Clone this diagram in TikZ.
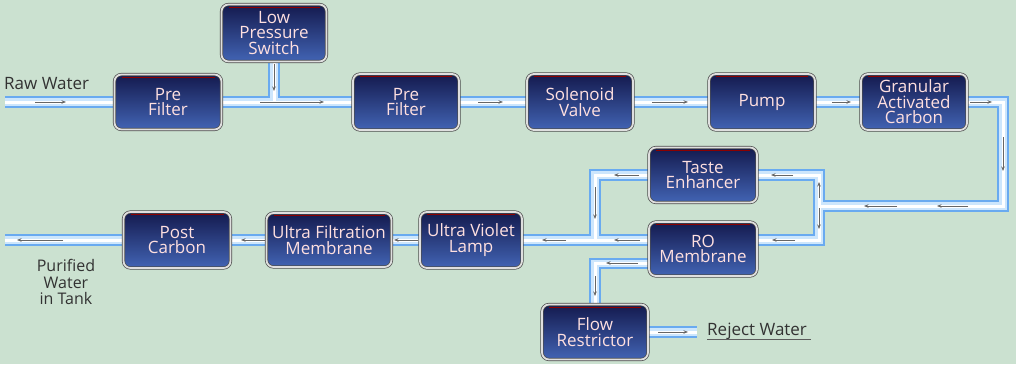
\documentclass[tikz,border=0pt]{standalone}
\usepackage{fontspec}
\setmainfont{Open Sans}
\usetikzlibrary{arrows.meta,calc}
\definecolor{bgc}{RGB}{203,225,208}
\definecolor{boxtop}{RGB}{20,26,78}
\definecolor{boxbot}{RGB}{66,100,180}
\definecolor{pipeblue}{RGB}{105,170,240}
\definecolor{pipemid}{RGB}{205,230,252}
\definecolor{txtdark}{RGB}{50,50,50}
\pgfdeclarelayer{back}
\pgfsetlayers{back,main}
\begin{document}
\begin{tikzpicture}[x=1pt,y=-1pt,
  box/.style={rounded corners=7pt, top color=boxtop, bottom color=boxbot,
    draw=black!70, line width=0.7pt, double=gray!25, double distance=1.8pt,
    minimum width=106pt, minimum height=56pt, align=center,
    text=white!88!red, font=\fontsize{17}{15.5}\selectfont, inner sep=1pt,
    path picture={\draw[red!55!black, line width=0.6pt]
      ([xshift=7pt,yshift=-2.5pt]path picture bounding box.north west) --
      ([xshift=-7pt,yshift=-2.5pt]path picture bounding box.north east);}},
  ext/.style={text=txtdark, inner sep=0pt},
  flow/.style={draw=black!60, line width=0.7pt, -{Stealth[length=4.5pt,width=3.5pt]}}]
\useasboundingbox (0,0) rectangle (1016,364);
% boxes
\node[box, minimum width=107pt, minimum height=55pt] (pf1) at (168,102) {Pre\\Filter};
\node[box, minimum width=105pt, minimum height=57pt] (lps) at (274,33) {Low\\Pressure\\Switch};
\node[box] (pf2) at (406,102) {Pre\\Filter};
\node[box] (sv) at (580,102) {Solenoid\\Valve};
\node[box] (pump) at (762,102) {Pump};
\node[box] (gac) at (914,102) {Granular\\Activated\\Carbon};
\node[box, minimum width=108pt, minimum height=55pt] (te) at (703,175) {Taste\\Enhancer};
\node[box, minimum width=108pt, minimum height=54pt] (ro) at (703,249) {RO\\Membrane};
\node[box, minimum width=102pt] (uv) at (471,240) {Ultra Violet\\Lamp};
\node[box, minimum width=125pt, minimum height=54pt] (ufm) at (329,240) {Ultra Filtration\\Membrane};
\node[box, minimum width=107pt] (pc) at (177,240) {Post\\Carbon};
\node[box, minimum width=106pt, minimum height=55pt] (fr) at (595,332) {Flow\\Restrictor};
% labels
\node[ext, anchor=west, font=\fontsize{17}{17}\selectfont] (rawl) at (4,84) {Raw Water};
\node[ext, align=center, font=\fontsize{16}{16.5}\selectfont] (pur) at (66,282) {Purified\\Water\\in Tank};
\node[ext, anchor=west, font=\fontsize{17}{17}\selectfont] (rejl) at (707,331) {Reject Water};
\draw[txtdark!80, line width=1pt] ($(rejl.base west)+(0,4.5)$) -- ($(rejl.base east)+(4,4.5)$);
% free ends and junctions
\coordinate (raw) at (5,102);
\coordinate (out) at (5,240);
\coordinate (c1) at (1003,102);
\coordinate (c2) at (1003,206);
\coordinate (j1) at (819,206);
\coordinate (rej) at (697,332);
\coordinate (rolow) at ($(ro.west)+(0,14.5)$);
\begin{pgfonlayer}{back}
\fill[bgc] (0,0) rectangle (1016,364);
\foreach \pw/\pc in {11.5/pipeblue, 7.5/pipemid, 3/white}{
  \tikzset{pipe/.style={draw=\pc, line width=\pw pt, line join=miter}}
  \draw[pipe] (raw) -- (pf1);
  \draw[pipe] (pf1) -- (pf2);
  \draw[pipe] (lps) -- (lps |- pf1);
  \draw[pipe] (pf2) -- (sv);
  \draw[pipe] (sv) -- (pump);
  \draw[pipe] (pump) -- (gac);
  \draw[pipe] (gac) -- (c1) -- (c2) -- (j1);
  \draw[pipe] (te) -- (te -| j1) -- (j1 |- uv) -- (ro.east |- uv);
  \draw[pipe] (te) -- (te -| fr) -- (fr |- uv);
  \draw[pipe] (ro.west |- uv) -- (uv);
  \draw[pipe] (rolow) -- (rolow -| fr) -- (fr);
  \draw[pipe] (fr) -- (rej);
  \draw[pipe] (uv) -- (ufm);
  \draw[pipe] (ufm) -- (pc);
  \draw[pipe] (pc) -- (out);
}
% flow marks
\draw[flow] (35,102) -- (66,102);
\draw[flow] (260,102) -- (324,102);
\draw[flow] (274,64) -- (274,91);
\draw[flow] (478,102) -- (503,102);
\draw[flow] (652,102) -- (688,102);
\draw[flow] (832,102) -- (851,102);
\draw[flow] (970,102) -- (992,102);
\draw[flow] (1003,137) -- (1003,171);
\draw[flow] (897,206) -- (864,206);
\draw[flow] (968,206) -- (937,206);
\draw[flow] (819,198) -- (819,182);
\draw[flow] (819,208) -- (819,229);
\draw[flow] (793,175) -- (771,175);
\draw[flow] (639,175) -- (614,175);
\draw[flow] (595,187) -- (595,219);
\draw[flow] (795,240) -- (772,240);
\draw[flow] (640,240) -- (614,240);
\draw[flow] (566,240) -- (542,240);
\draw[flow] (638,263) -- (606,263);
\draw[flow] (595,276) -- (595,296);
\draw[flow] (658,332) -- (688,332);
\draw[flow] (418,240) -- (394,240);
\draw[flow] (265,240) -- (241,240);
\draw[flow] (63,240) -- (17,240);
\end{pgfonlayer}
\end{tikzpicture}
\end{document}
